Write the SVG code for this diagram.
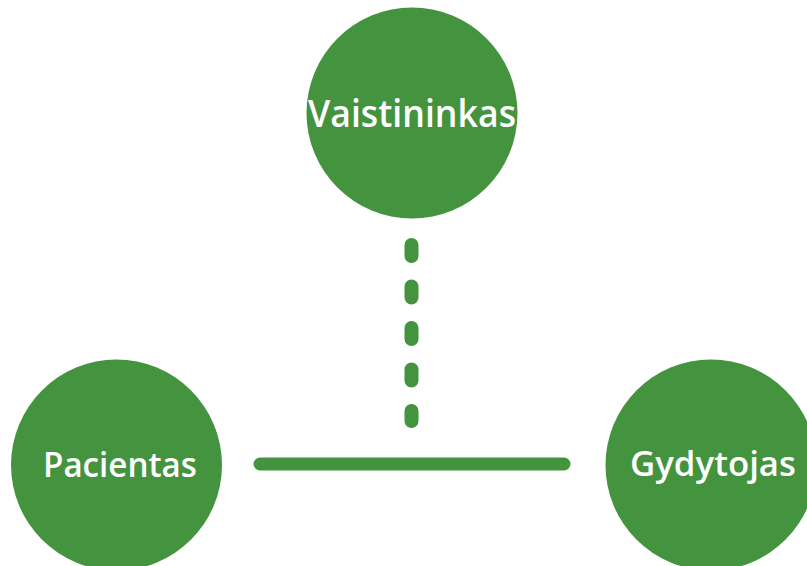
<svg xmlns="http://www.w3.org/2000/svg" width="807" height="566" viewBox="0 0 807 566">
<style>
.node{fill:#43933f}
.lbl{fill:#ffffff;font-family:"Open Sans","Noto Sans",sans-serif;font-weight:600;font-size:35px;text-anchor:middle}
.conn{stroke:#43933f;fill:none;stroke-linecap:round}
</style>
<rect width="807" height="566" fill="#ffffff"/>
<g id="connectors">
<line class="conn" x1="411.5" y1="245" x2="411.5" y2="421" stroke-width="14" stroke-dasharray="11 30.5"/>
<line class="conn" x1="260" y1="464" x2="564" y2="464" stroke-width="13"/>
</g>
<g id="vaistininkas">
<circle class="node" cx="412" cy="113" r="105.5"/>
<text class="lbl" x="412" y="127" style="font-size:37px" textLength="208" lengthAdjust="spacingAndGlyphs">Vaistininkas</text>
</g>
<g id="pacientas">
<circle class="node" cx="116.5" cy="465" r="105.5"/>
<text class="lbl" x="120" y="477" textLength="154" lengthAdjust="spacingAndGlyphs">Pacientas</text>
</g>
<g id="gydytojas">
<circle class="node" cx="711" cy="465" r="105.5"/>
<text class="lbl" x="713" y="476" textLength="166" lengthAdjust="spacingAndGlyphs">Gydytojas</text>
</g>
</svg>
